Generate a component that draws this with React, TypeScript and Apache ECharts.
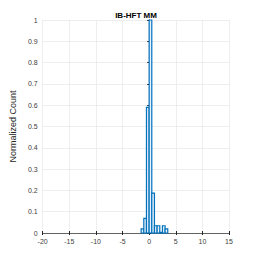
import React, { useEffect, useRef } from "react";
import * as echarts from "echarts";

const binEdgesStart = [-1.5, -1, -0.5, 0, 0.5, 1, 1.5, 2, 2.5, 3];
const binWidth = 0.5;
const binValues = [0.019, 0.069, 0.59, 1.0, 0.1875, 0.034, 0.034, 0.003, 0.034, 0.019];
const xTicks = [-20, -15, -10, -5, 0, 5, 10, 15];
const yTicks = [0, 0.1, 0.2, 0.3, 0.4, 0.5, 0.6, 0.7, 0.8, 0.9, 1];
const titleText = "IB-HFT MM";
const yLabel = "Normalized Count";

export default function App() {
  const ref = useRef<HTMLDivElement>(null);
  useEffect(() => {
    if (!ref.current) return;
    const chart = echarts.init(ref.current, undefined, { renderer: "svg" });
    const data = binEdgesStart.map((s, i) => [s, s + binWidth, binValues[i]]);
    const font = "'Liberation Sans', Arial, sans-serif";
    chart.setOption({
      animation: false,
      backgroundColor: "#ffffff",
      title: {
        text: titleText,
        left: 131,
        textAlign: "center",
        top: 6,
        textStyle: { fontSize: 8, fontWeight: "bold", color: "#000", fontFamily: font },
      },
      grid: { left: 33, right: 25, top: 20, bottom: 29, containLabel: false },
      xAxis: [
        {
          type: "value",
          min: xTicks[0],
          max: xTicks[xTicks.length - 1],
          interval: 5,
          axisLine: { show: true, onZero: false, lineStyle: { color: "#262626", width: 0.7 } },
          axisTick: { show: true, inside: true, length: 2, lineStyle: { color: "#262626" } },
          axisLabel: { fontSize: 7, color: "#404040", fontFamily: font, margin: 5 },
          splitLine: { show: true, lineStyle: { color: "#e6e6e6", width: 0.7 } },
        },
        {
          type: "value",
          position: "top",
          min: xTicks[0],
          max: xTicks[xTicks.length - 1],
          interval: 5,
          axisLine: { show: false },
          axisTick: { show: true, inside: true, length: 2, lineStyle: { color: "#262626" } },
          axisLabel: { show: false },
          splitLine: { show: false },
        },
      ],
      yAxis: [
        {
          type: "value",
          min: yTicks[0],
          max: yTicks[yTicks.length - 1],
          interval: 0.1,
          name: yLabel,
          nameLocation: "middle",
          nameGap: 10,
          nameTextStyle: { fontSize: 9, color: "#262626", fontFamily: font },
          axisLine: { show: true, lineStyle: { color: "#262626", width: 0.7 } },
          axisTick: { show: true, inside: true, length: 2, lineStyle: { color: "#262626" } },
          axisLabel: {
            fontSize: 7,
            color: "#404040",
            fontFamily: font,
            margin: 5,
            formatter: (v: number) => String(Math.round(v * 10) / 10),
          },
          splitLine: { show: true, lineStyle: { color: "#e6e6e6", width: 0.7 } },
        },
        {
          type: "value",
          position: "right",
          min: yTicks[0],
          max: yTicks[yTicks.length - 1],
          interval: 0.1,
          axisLine: { show: false },
          axisTick: { show: true, inside: true, length: 2, lineStyle: { color: "#262626" } },
          axisLabel: { show: false },
          splitLine: { show: false },
        },
      ],
      series: [
        {
          type: "custom",
          xAxisIndex: 0,
          yAxisIndex: 0,
          data,
          renderItem: (params: any, api: any) => {
            const x0 = api.value(0);
            const x1 = api.value(1);
            const y = api.value(2);
            const p0 = api.coord([x0, y]);
            const p1 = api.coord([x1, 0]);
            return {
              type: "rect",
              shape: { x: p0[0], y: p0[1], width: p1[0] - p0[0], height: p1[1] - p0[1] },
              style: { fill: "#e8f1fa", stroke: "#0072BD", lineWidth: 1.2 },
            };
          },
        },
      ],
    });
    return () => chart.dispose();
  }, []);
  return <div ref={ref} style={{ width: 254, height: 262, margin: -8 }} />;
}
